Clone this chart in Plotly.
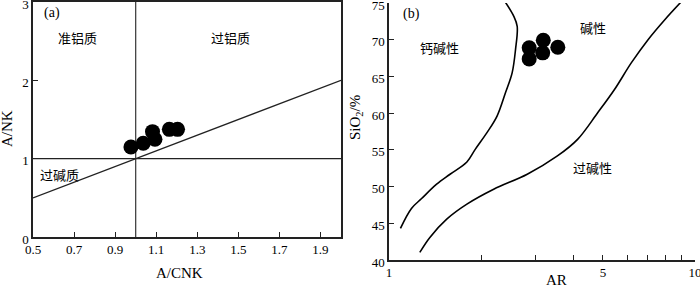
import plotly.graph_objects as go

# ---------------- data: panel (a) ----------------
a_cnk = [0.977, 1.037, 1.082, 1.094, 1.164, 1.204]
a_nk = [1.149, 1.196, 1.345, 1.247, 1.374, 1.374]
a_xticks = [0.5, 0.7, 0.9, 1.1, 1.3, 1.5, 1.7, 1.9]
a_yticks = [0, 1, 2, 3]
a_vline_x = [1.0, 1.0]
a_vline_y = [0, 3]
a_hline_x = [0.5, 2.0]
a_hline_y = [1.0, 1.0]
a_diag_x = [0.5, 2.0]
a_diag_y = [0.5, 2.0]

# ---------------- data: panel (b) ----------------
b_ar = [2.872, 2.872, 3.193, 3.179, 3.562]
b_sio2 = [68.89, 67.39, 69.92, 68.21, 68.97]
curve1_ar = [1.090, 1.184, 1.278, 1.431, 1.583, 1.797, 1.913, 2.090, 2.255, 2.402, 2.526, 2.591, 2.624, 2.558, 2.371]
curve1_si = [44.30, 47.02, 48.37, 50.32, 51.68, 53.35, 55.07, 57.34, 59.60, 62.77, 65.49, 68.66, 71.82, 73.18, 75.45]
curve2_ar = [1.261, 1.360, 1.544, 1.797, 2.198, 2.830, 3.551, 4.133, 4.808, 5.456, 6.190, 7.023, 7.967, 9.04]
curve2_si = [41.04, 43.08, 45.57, 47.61, 49.64, 51.68, 54.17, 56.43, 60.05, 63.22, 66.84, 70.01, 72.73, 75.22]
b_xticks = [1, 2, 3, 4, 5, 6, 7, 8, 9, 10]
b_xticktext = ["1", "", "", "", "5", "", "", "", "", "10"]
b_yticks = [40, 45, 50, 55, 60, 65, 70, 75]

W, H = 700, 288
SERIF = "Liberation Serif"
CJK = "Noto Sans CJK SC"
LINE = "#222"

def px(x):
    return x / W

def py(y):
    return 1 - y / H

fig = go.Figure()

# panel (a)
for xs, ys, col in [(a_vline_x, a_vline_y, "#444"), (a_hline_x, a_hline_y, LINE), (a_diag_x, a_diag_y, LINE)]:
    fig.add_trace(go.Scatter(x=xs, y=ys, mode="lines", line=dict(color=col, width=1.3),
                             xaxis="x", yaxis="y", showlegend=False, hoverinfo="skip"))
fig.add_trace(go.Scatter(x=a_cnk, y=a_nk, mode="markers", marker=dict(color="black", size=15),
                         xaxis="x", yaxis="y", showlegend=False))

# panel (b)
for xs, ys in [(curve1_ar, curve1_si), (curve2_ar, curve2_si)]:
    fig.add_trace(go.Scatter(x=xs, y=ys, mode="lines", line=dict(color="black", width=1.6, shape="spline"),
                             xaxis="x2", yaxis="y2", showlegend=False, hoverinfo="skip"))
fig.add_trace(go.Scatter(x=b_ar, y=b_sio2, mode="markers", marker=dict(color="black", size=15),
                         xaxis="x2", yaxis="y2", showlegend=False))

tickfont = dict(family=SERIF, size=13, color="black")
common = dict(showgrid=False, zeroline=False, showline=True, linecolor=LINE, linewidth=1.5,
              ticks="inside", ticklen=5, tickcolor=LINE, tickfont=tickfont,
              automargin=False, ticklabeloverflow="allow")

fig.update_layout(
    width=W, height=H, margin=dict(l=0, r=0, t=0, b=0),
    paper_bgcolor="white", plot_bgcolor="white",
    xaxis=dict(domain=[px(33), px(341)], range=[0.5, 2.0], tickvals=a_xticks,
               ticktext=[f"{v:.1f}" for v in a_xticks], mirror=True, anchor="y", **common),
    yaxis=dict(domain=[py(237), py(2)], range=[0, 3], tickvals=a_yticks, mirror=True, anchor="x",
               ticklabelshift=2, **common),
    xaxis2=dict(domain=[px(389), px(695)], type="log", range=[0, 1], tickvals=b_xticks,
                ticktext=b_xticktext, anchor="y2", **common),
    yaxis2=dict(domain=[py(260), py(3)], range=[40, 75], tickvals=b_yticks, anchor="x2",
                ticklabelshift=2, **common),
)

ann = []
def txt(x, y, s, font, size, angle=0):
    ann.append(dict(x=px(x), y=py(y), xref="paper", yref="paper", text=s, showarrow=False,
                    font=dict(family=font, size=size, color="black"), textangle=angle,
                    xanchor="center", yanchor="middle"))

txt(52, 13, "(a)", SERIF, 14)
txt(77, 37, "准铝质", CJK, 13)
txt(230, 37, "过铝质", CJK, 13)
txt(59, 174, "过碱质", CJK, 13)
txt(180, 273, "A/CNK", SERIF, 15)
txt(7, 129, "A/NK", SERIF, 15, -90)
txt(411, 14, "(b)", SERIF, 14)
txt(439, 48, "钙碱性", CJK, 13)
txt(593, 27, "碱性", CJK, 13)
txt(592, 167, "过碱性", CJK, 13)
txt(556, 280, "AR", SERIF, 15)
txt(356, 118, "SiO<sub>2</sub>/%", SERIF, 15, -90)
fig.update_layout(annotations=ann)

fig.write_html("out.html", config={"displayModeBar": False},
               post_script="document.body.style.margin='0';")
